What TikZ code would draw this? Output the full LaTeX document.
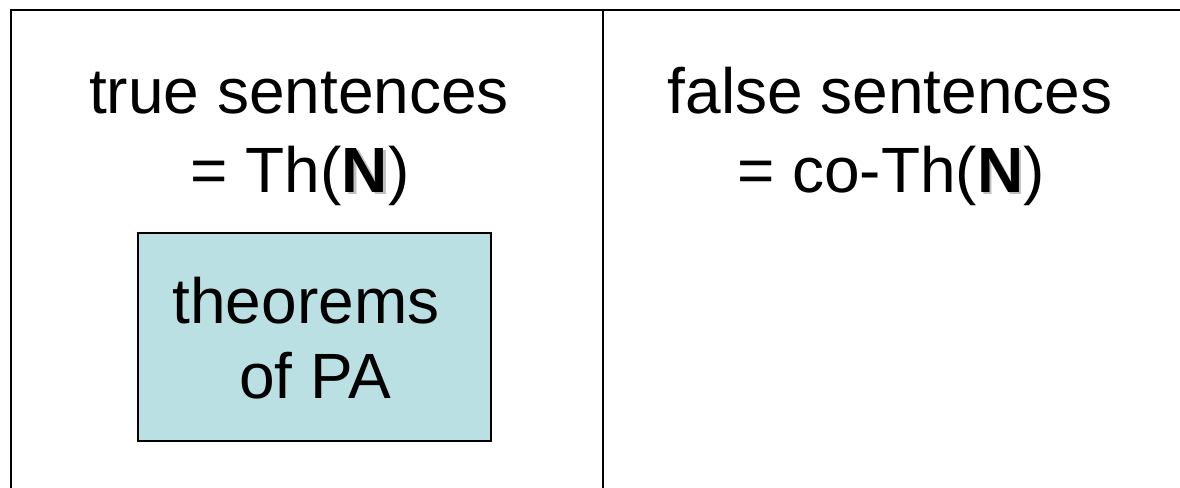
\documentclass[tikz,border=0pt]{standalone}
\usepackage{fontspec}
\setmainfont{Liberation Sans}
\usepackage{xcolor}
\usetikzlibrary{positioning}
\definecolor{paFill}{RGB}{187,224,227}
\newcommand{\shadowN}{\rlap{\hspace{1.8pt}\raisebox{-1.8pt}{\textcolor{black!25}{\textbf{N}}}}\textbf{N}}
\tikzset{
  frame/.style={line width=2.2pt, line cap=rect},
  big/.style={font=\fontsize{48}{58}\selectfont, inner sep=0pt, anchor=base},
}

\begin{document}
\begin{tikzpicture}[x=0.75pt, y=-0.75pt]
\useasboundingbox (0,0) rectangle (1180,487);
% frame and divider
\coordinate (tl) at (11,10);
\coordinate (tr) at (1180,10);
\coordinate (bl) at (11,487);
\coordinate (mt) at (603,10);
\coordinate (mb) at (603,487);
\draw[frame] (bl) -- (tl) -- (tr);
\draw[frame] (mt) -- (mb);

% true sentences
\node[big] (truel) at (299,113) {true sentences};
\node[big] (thl) at (300,192) {= Th(\shadowN)};

% false sentences
\node[big] (falsel) at (890,113) {false sentences};
\node[big] (cothl) at (891,192) {= co-Th(\shadowN)};

% theorems of PA
\node[draw, fill=paFill, line width=0.9pt, minimum width=353*0.75pt, minimum height=208*0.75pt, inner sep=0pt] (pa) at (314.5,337) {};
\node[big] (thm) at (306,323) {theorems};
\node[big] (ofpa) at (315,398) {of PA};

\end{tikzpicture}
\end{document}
